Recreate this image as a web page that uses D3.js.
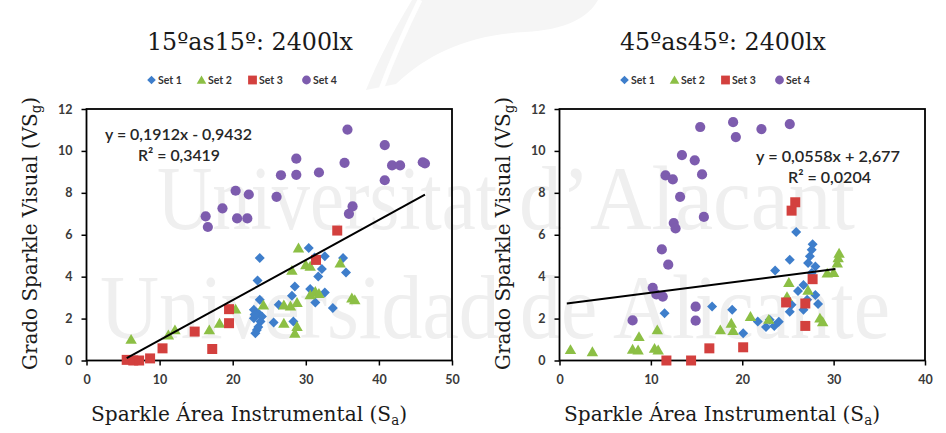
<!DOCTYPE html>
<html>
<head>
<meta charset="utf-8">
<script src="https://cdn.jsdelivr.net/npm/d3@7"></script>
<style>
  html, body { margin: 0; padding: 0; background: #ffffff; }
  svg { display: block; }
</style>
</head>
<body>
<svg id="chart" width="946" height="433"></svg>
<script>
// ---- data: Sparkle Área Instrumental (x) vs Grado Sparkle Visual (y) ----
const seriesNames = ["Set 1", "Set 2", "Set 3", "Set 4"];
const xTicks15 = [0, 10, 20, 30, 40, 50];
const xTicks45 = [0, 10, 20, 30, 40];
const yTicks = [0, 2, 4, 6, 8, 10, 12];

// 15ºas15º
const p15Set1 = [[23.7,4.89],[23.4,3.82],[23.7,2.9],[22.9,2.42],[23.5,2.26],[22.9,2.02],[23.8,1.86],[23.3,1.46],[23.1,1.3],[24.0,2.1],[23.5,1.6],[23.0,2.2],[25.6,1.81],[26.3,2.66],[28.5,3.53],[28.3,1.86],[28.1,3.09],[30.4,5.37],[31.2,4.92],[31.7,4.01],[32.2,4.36],[32.6,4.97],[30.6,3.41],[31.3,2.77],[32.6,3.24],[33.7,2.5],[35.1,4.89],[35.5,4.2]];
const p15Set2 = [[6.1,1.01],[11.2,1.22],[12.1,1.46],[16.8,1.46],[18.2,1.78],[20.4,2.45],[24.2,2.65],[27.0,2.65],[27.9,2.6],[28.8,2.77],[27.0,1.78],[28.8,1.62],[28.5,1.3],[29.0,5.37],[30.0,4.57],[30.6,4.5],[28.1,4.3],[30.6,3.13],[31.3,3.29],[31.8,3.2],[34.7,4.65],[36.3,2.98],[36.7,2.9]];
const p15Set3 = [[5.5,0.03],[6.4,0],[7.2,0],[8.7,0.1],[10.4,0.58],[14.8,1.38],[17.2,0.55],[19.5,1.78],[19.5,2.45],[31.4,4.8],[34.3,6.2]];
const p15Set4 = [[16.3,6.88],[16.6,6.37],[18.6,7.26],[20.4,8.1],[20.6,6.78],[22.0,6.78],[22.2,7.92],[26.0,7.81],[26.6,8.84],[28.7,9.63],[28.7,8.86],[31.8,8.97],[35.3,9.43],[35.7,11.02],[35.9,7.0],[36.4,7.35],[40.8,10.28],[40.8,8.6],[41.8,9.31],[42.9,9.31],[46.0,9.46],[46.3,9.4]];
const trend15 = { slope: 0.1912, intercept: -0.9432, r2: "0,3419", from: 5.5, to: 46.3 };

// 45ºas45º
const p45Set1 = [[11.5,2.26],[16.7,2.58],[18.9,2.42],[20.1,1.3],[21.7,1.86],[22.6,1.6],[23.0,1.94],[23.5,1.65],[24.0,1.85],[23.6,4.3],[25.2,4.81],[25.9,6.13],[26.1,3.32],[25.2,2.33],[25.4,2.66],[26.7,2.42],[26.7,3.6],[27.1,2.9],[27.7,5.55],[27.6,5.29],[27.4,4.97],[28.0,4.49],[27.2,4.65],[27.6,4.17],[28.0,3.13],[28.3,2.7]];
const p45Set2 = [[1.2,0.52],[3.6,0.42],[8.0,0.54],[8.6,0.5],[8.7,1.14],[10.7,1.46],[10.4,0.58],[10.8,0.5],[17.6,1.46],[18.8,1.78],[19.0,1.43],[20.9,2.1],[22.9,1.96],[24.9,3.05],[25.1,3.72],[27.2,3.35],[28.5,2.02],[28.8,1.85],[29.3,4.17],[30.0,4.2],[30.4,4.65],[30.5,4.9],[30.6,5.12]];
const p45Set3 = [[11.7,0],[14.4,0],[16.4,0.58],[20.1,0.63],[24.8,2.77],[26.9,2.72],[26.9,1.65],[27.7,3.88],[25.4,7.15],[25.8,7.55]];
const p45Set4 = [[8.0,1.91],[10.2,3.47],[10.6,3.15],[11.3,3.05],[11.2,5.3],[11.9,4.57],[11.6,8.83],[12.4,8.64],[13.2,7.81],[12.5,6.56],[12.7,6.3],[13.4,9.8],[14.8,9.55],[15.4,11.14],[15.6,8.88],[15.8,6.85],[14.9,2.57],[14.9,1.9],[19.0,11.37],[19.3,10.66],[22.1,11.04],[25.2,11.28]];
const trend45 = { slope: 0.0558, intercept: 2.677, r2: "0,0204", from: 0.8, to: 30.2 };

// ---- styling ----
const colors = ["#3e7ecb", "#8cbf45", "#d3403e", "#7d5cae"];
const shapes = ["diamond", "triangle", "square", "circle"];
const serif = "'DejaVu Serif', serif";
const sans = "Lato, 'Open Sans', sans-serif";

function markerPath(shape, s) {
  const p = d3.path();
  if (shape === "diamond") {
    p.moveTo(0, -s); p.lineTo(s, 0); p.lineTo(0, s); p.lineTo(-s, 0); p.closePath();
  } else if (shape === "triangle") {
    const h = s * 1.9, w = s * 1.1;
    p.moveTo(0, -h * 0.55); p.lineTo(w, h * 0.45); p.lineTo(-w, h * 0.45); p.closePath();
  } else if (shape === "square") {
    p.rect(-s, -s, 2 * s, 2 * s);
  } else {
    p.arc(0, 0, s, 0, 2 * Math.PI);
  }
  return p.toString();
}
const markerSize = { diamond: 5, triangle: 5.2, square: 5, circle: 5.1 };

const svg = d3.select("#chart");

// ---- university watermark behind both charts ----
svg.append("path")
  .attr("d", "M366,90 C378,60 395,28 412,0 L598,0 C588,18 565,30 525,32 C470,35 430,52 396,84 Z")
  .attr("fill", "#f5f5f5");
svg.append("path")
  .attr("d", "M380,92 C392,60 405,30 420,0")
  .attr("fill", "none").attr("stroke", "#ffffff").attr("stroke-width", 5);

const wm = svg.append("g").attr("fill", "#efefef").attr("font-family", "'Liberation Serif', serif");
const wmWords = [
  { text: "Universitat", x: 157, y: 229, size: 90, len: 340 },
  { text: "d\u2019Alacant", x: 519, y: 229, size: 90, len: 336 },
  { text: "Universidad de Alicante", x: 100, y: 338, size: 92, len: 790 }
];
wmWords.forEach(w => {
  wm.append("text").attr("x", w.x).attr("y", w.y).attr("font-size", w.size)
    .attr("textLength", w.len).attr("lengthAdjust", "spacingAndGlyphs").text(w.text);
});

const panels = [
  { title: "15ºas15º: 2400lx", ox: 0, xMax: 50, xTicks: xTicks15,
    sets: [p15Set1, p15Set2, p15Set3, p15Set4], trend: trend15,
    eq: { x: 105, y: 140, len: 147, r2x: 138, r2len: 82 } },
  { title: "45ºas45º: 2400lx", ox: 473, xMax: 40, xTicks: xTicks45,
    sets: [p45Set1, p45Set2, p45Set3, p45Set4], trend: trend45,
    eq: { x: 283, y: 162, len: 144, r2x: 315, r2len: 83 } }
];

const plotLeft = 86.5, plotRight = 452, plotTop = 109, plotBottom = 360.5;

panels.forEach(pn => {
  const g = svg.append("g").attr("transform", `translate(${pn.ox},0)`);
  const x = d3.scaleLinear().domain([0, pn.xMax]).range([plotLeft, plotRight]);
  const y = d3.scaleLinear().domain([0, 12]).range([plotBottom, plotTop]);

  // title
  g.append("text").attr("x", 250).attr("y", 50).attr("text-anchor", "middle")
    .attr("font-family", serif).attr("font-size", 24).attr("fill", "#1a1a1a")
    .attr("textLength", 206).attr("lengthAdjust", "spacingAndGlyphs")
    .text(pn.title);

  // legend
  const legendOffsets = [0, 50, 101, 155];
  const lg = g.append("g").attr("transform", "translate(147,80)");
  seriesNames.forEach((name, i) => {
    const it = lg.append("g").attr("transform", `translate(${legendOffsets[i]},0)`);
    it.append("path").attr("transform", "translate(4.5,0)")
      .attr("d", markerPath(shapes[i], shapes[i] === "diamond" ? 4.3 : 4.4))
      .attr("fill", colors[i]);
    it.append("text").attr("x", 11).attr("y", 4).attr("font-family", sans)
      .attr("font-size", 10.5).attr("font-weight", 700).attr("fill", "#333")
      .text(name);
  });

  // axes
  const yAxis = d3.axisLeft(y).tickValues(yTicks).tickSize(5).tickPadding(9).tickFormat(d3.format("d"));
  const xAxis = d3.axisBottom(x).tickValues(pn.xTicks).tickSize(5).tickPadding(10).tickFormat(d3.format("d"));
  const ya = g.append("g").attr("transform", `translate(${plotLeft},0)`).call(yAxis);
  const xa = g.append("g").attr("transform", `translate(0,${plotBottom})`).call(xAxis);
  [ya, xa].forEach(a => {
    a.select(".domain").remove();
    a.selectAll(".tick line").attr("stroke", "#000").attr("stroke-width", 1.5);
    a.selectAll(".tick text").attr("font-family", sans).attr("font-size", 12.5)
      .attr("font-weight", 700).attr("fill", "#3a3a3a");
  });

  // frame
  g.append("rect").attr("x", plotLeft).attr("y", plotTop)
    .attr("width", plotRight - plotLeft).attr("height", plotBottom - plotTop)
    .attr("fill", "none").attr("stroke", "#000").attr("stroke-width", 1.8);

  // points
  pn.sets.forEach((pts, i) => {
    g.append("g").selectAll("path").data(pts).join("path")
      .attr("transform", d => `translate(${x(d[0])},${y(d[1])})`)
      .attr("d", markerPath(shapes[i], markerSize[shapes[i]]))
      .attr("fill", colors[i]);
  });

  // linear trend line
  const t = pn.trend;
  const line = d3.line().x(d => x(d)).y(d => y(t.slope * d + t.intercept));
  g.append("path").datum([t.from, t.to]).attr("d", line)
    .attr("fill", "none").attr("stroke", "#000").attr("stroke-width", 2);

  // equation
  const sign = t.intercept < 0 ? "-" : "+";
  const fmt = v => String(v).replace(".", ",");
  const eqText = `y = ${fmt(t.slope)}x ${sign} ${fmt(Math.abs(t.intercept))}`;
  g.append("text").attr("x", pn.eq.x).attr("y", pn.eq.y)
    .attr("font-family", sans).attr("font-size", 16).attr("font-weight", 600).attr("fill", "#262626")
    .attr("textLength", pn.eq.len).attr("lengthAdjust", "spacingAndGlyphs")
    .text(eqText);
  g.append("text").attr("x", pn.eq.r2x).attr("y", pn.eq.y + 20.5)
    .attr("font-family", sans).attr("font-size", 16).attr("font-weight", 600).attr("fill", "#262626")
    .attr("textLength", pn.eq.r2len).attr("lengthAdjust", "spacingAndGlyphs")
    .text(`R² = ${t.r2}`);

  // axis titles
  const xt = g.append("text").attr("x", 249).attr("y", 421).attr("text-anchor", "middle")
    .attr("font-family", serif).attr("font-size", 21).attr("fill", "#1a1a1a")
    .attr("textLength", 316).attr("lengthAdjust", "spacingAndGlyphs");
  xt.append("tspan").text("Sparkle Área Instrumental (S");
  xt.append("tspan").attr("font-size", 14).attr("dy", 4).text("a");
  xt.append("tspan").attr("dy", -4).text(")");

  const yt = g.append("text").attr("transform", "translate(37,233.5) rotate(-90)")
    .attr("text-anchor", "middle")
    .attr("font-family", serif).attr("font-size", 21).attr("fill", "#1a1a1a")
    .attr("textLength", 273).attr("lengthAdjust", "spacingAndGlyphs");
  yt.append("tspan").text("Grado Sparkle Visual (VS");
  yt.append("tspan").attr("font-size", 14).attr("dy", 4).text("g");
  yt.append("tspan").attr("dy", -4).text(")");
});
</script>
</body>
</html>
